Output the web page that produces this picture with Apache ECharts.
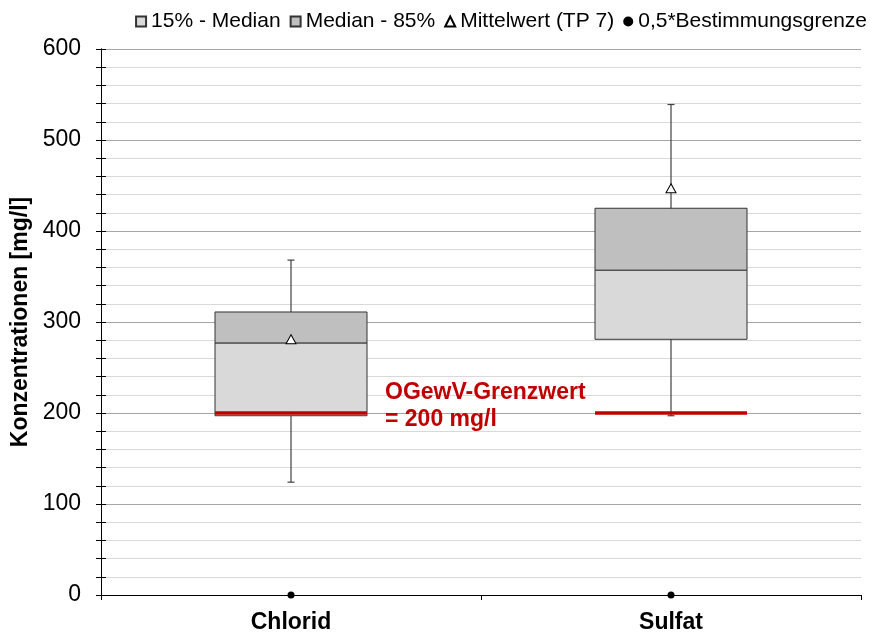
<!DOCTYPE html>
<html>
<head>
<meta charset="utf-8">
<script src="https://cdn.jsdelivr.net/npm/echarts@6/dist/echarts.min.js"></script>
<style>
html,body{margin:0;padding:0;background:#fff;}
#chart{width:872px;height:635px;}
</style>
</head>
<body>
<div id="chart"></div>
<script>
const categories = ['Chlorid', 'Sulfat'];
const whiskerLow = [124, 197];
const p15 = [197, 281];
const median = [277, 357];
const p85 = [311, 425];
const whiskerHigh = [368, 539];
const mean = [281, 447];
const halfLoq = [0, 0];
const limitValue = [200, 200];
const yTicks = [0, 100, 200, 300, 400, 500, 600];

const FONT = '"Liberation Sans", Arial, sans-serif';
const chart = echarts.init(document.getElementById('chart'));

function boxRender(fill) {
  return function (params, api) {
    const x = api.value(0);
    const lo = api.coord([x, api.value(1)]);
    const hi = api.coord([x, api.value(2)]);
    const w = api.size([1, 0])[0] * 0.4;
    return {
      type: 'rect',
      shape: { x: lo[0] - w / 2, y: hi[1], width: w, height: lo[1] - hi[1] },
      style: { fill: fill, stroke: '#333', lineWidth: 1 }
    };
  };
}

const option = {
  backgroundColor: '#fff',
  animation: false,
  textStyle: { fontFamily: FONT },
  grid: { left: 101, right: 11, top: 49, bottom: 40 },
  legend: {
    top: 6,
    right: 0,
    itemWidth: 10,
    itemHeight: 10,
    itemGap: 9,
    textStyle: { fontSize: 21, color: '#000', fontFamily: FONT },
    data: [
      { name: '15% - Median', icon: 'rect' },
      { name: 'Median - 85%', icon: 'rect' },
      { name: 'Mittelwert (TP 7)', icon: 'triangle' },
      { name: '0,5*Bestimmungsgrenze', icon: 'circle' }
    ]
  },
  xAxis: {
    type: 'category',
    data: categories,
    boundaryGap: true,
    axisLine: { lineStyle: { color: '#000', width: 1 } },
    axisTick: { show: true, length: 5, lineStyle: { color: '#000' } },
    axisLabel: { fontSize: 23, fontWeight: 'bold', color: '#000', margin: 16, fontFamily: FONT },
    splitLine: { show: false }
  },
  yAxis: [
    {
      type: 'value',
      min: yTicks[0],
      max: yTicks[yTicks.length - 1],
      interval: 100,
      name: 'Konzentrationen [mg/l]',
      nameLocation: 'middle',
      nameGap: 69,
      nameTextStyle: { fontSize: 23, fontWeight: 'bold', color: '#000', fontFamily: FONT },
      axisLine: { show: true, lineStyle: { color: '#000', width: 1 } },
      axisTick: { show: true, length: 5, lineStyle: { color: '#000' } },
      minorTick: { show: true, splitNumber: 5, length: 5, lineStyle: { color: '#000' } },
      axisLabel: { fontSize: 23, color: '#000', margin: 20, fontFamily: FONT },
      splitLine: { show: true, lineStyle: { color: '#a6a6a6', width: 1 } },
      minorSplitLine: { show: true, lineStyle: { color: '#d9d9d9', width: 1 } }
    },
    {
      type: 'value',
      min: yTicks[0],
      max: yTicks[yTicks.length - 1],
      interval: 100,
      position: 'left',
      offset: 0,
      axisLine: { show: true, lineStyle: { color: '#000', width: 1 } },
      axisTick: { show: true, inside: true, length: 5, lineStyle: { color: '#000' } },
      minorTick: { show: true, splitNumber: 5, length: 5, lineStyle: { color: '#000' } },
      axisLabel: { show: false },
      splitLine: { show: false }
    }
  ],
  series: [
    {
      name: 'whisker',
      type: 'custom',
      z: 1,
      data: categories.map((c, i) => [i, whiskerLow[i], whiskerHigh[i]]),
      renderItem: function (params, api) {
        const x = api.value(0);
        const lo = api.coord([x, api.value(1)]);
        const hi = api.coord([x, api.value(2)]);
        const cw = 3.5;
        const st = { stroke: '#404040', lineWidth: 1.2 };
        return {
          type: 'group',
          children: [
            { type: 'line', shape: { x1: lo[0], y1: lo[1], x2: hi[0], y2: hi[1] }, style: st },
            { type: 'line', shape: { x1: lo[0] - cw, y1: lo[1], x2: lo[0] + cw, y2: lo[1] }, style: st },
            { type: 'line', shape: { x1: hi[0] - cw, y1: hi[1], x2: hi[0] + cw, y2: hi[1] }, style: st }
          ]
        };
      }
    },
    {
      name: '15% - Median',
      type: 'custom',
      z: 2,
      itemStyle: { color: '#d9d9d9', borderColor: '#333', borderWidth: 1 },
      data: categories.map((c, i) => [i, p15[i], median[i]]),
      renderItem: boxRender('#d9d9d9')
    },
    {
      name: 'Median - 85%',
      type: 'custom',
      z: 2,
      itemStyle: { color: '#bfbfbf', borderColor: '#333', borderWidth: 1 },
      data: categories.map((c, i) => [i, median[i], p85[i]]),
      renderItem: boxRender('#bfbfbf')
    },
    {
      name: 'limit',
      type: 'custom',
      z: 3,
      data: categories.map((c, i) => [i, limitValue[i]]),
      renderItem: function (params, api) {
        const x = api.value(0);
        const p = api.coord([x, api.value(1)]);
        const w = api.size([1, 0])[0] * 0.4;
        const children = [
          { type: 'line', shape: { x1: p[0] - w / 2, y1: p[1], x2: p[0] + w / 2, y2: p[1] },
            style: { stroke: '#c00000', lineWidth: 3.5 } }
        ];
        if (params.dataIndex === 0) {
          children.push({
            type: 'text',
            x: p[0] + w / 2 + 18,
            y: p[1] - 7,
            style: {
              text: 'OGewV-Grenzwert\n= ' + api.value(1) + ' mg/l',
              fill: '#c00000',
              font: 'bold 23px ' + FONT,
              lineHeight: 27,
              align: 'left',
              verticalAlign: 'middle'
            }
          });
        }
        return { type: 'group', children: children };
      }
    },
    {
      name: 'Mittelwert (TP 7)',
      type: 'scatter',
      z: 4,
      symbol: 'triangle',
      symbolSize: [10, 9],
      itemStyle: { color: '#fff', borderColor: '#000', borderWidth: 1, opacity: 1 },
      data: mean
    },
    {
      name: '0,5*Bestimmungsgrenze',
      type: 'scatter',
      z: 5,
      symbol: 'circle',
      symbolSize: 7,
      itemStyle: { color: '#000', opacity: 1 },
      data: halfLoq
    }
  ]
};
chart.setOption(option);
</script>
</body>
</html>
